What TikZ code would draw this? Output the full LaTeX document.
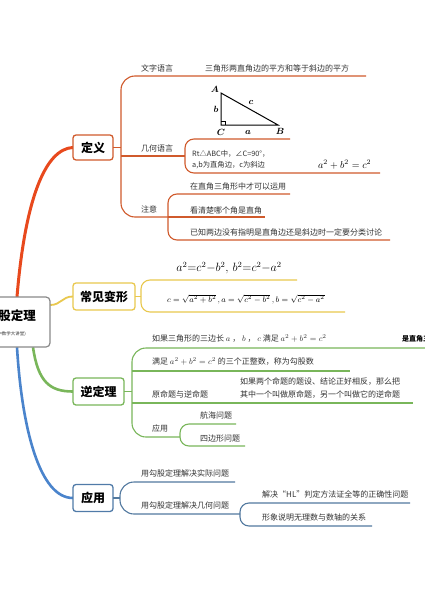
\documentclass[tikz,border=0pt]{standalone}
\usepackage{fontspec}
\usepackage{amsmath}
\setmainfont{Noto Sans CJK SC}
\usetikzlibrary{calc}
\definecolor{txt}{HTML}{333333}
\definecolor{redm}{HTML}{E8491D}
\definecolor{reds}{HTML}{D05A2C}
\definecolor{yelm}{HTML}{E9C84E}
\definecolor{grnm}{HTML}{79B65A}
\definecolor{blum}{HTML}{4A84CC}
\definecolor{blus}{HTML}{52799F}
\definecolor{rootc}{HTML}{8A8A8A}
\begin{document}
\begin{tikzpicture}[x=1pt,y=-1pt,
  mainbox/.style={draw, rounded corners=3pt, line width=1.3pt, fill=white, text=black,
    font=\bfseries\fontsize{12}{14}\selectfont, inner sep=0pt, minimum height=26pt},
  lbl/.style={anchor=base west, inner sep=0pt, text=txt, font=\fontsize{8}{10}\selectfont},
  sml/.style={anchor=base west, inner sep=0pt, text=txt, font=\fontsize{7.3}{9}\selectfont},
  tri/.style={inner sep=0pt, font=\fontsize{9}{10}\selectfont},
  sub/.style={line width=1.1pt},
  br/.style={line width=1.1pt, rounded corners=14pt},
  brs/.style={line width=1.1pt, rounded corners=9pt}
]
\useasboundingbox (0,0) rectangle (425,605);
\clip (0,0) rectangle (425,605);
\fill[white] (0,0) rectangle (425,605);

% ---------- root (placed first for anchors) ----------
\node[minimum width=78pt, minimum height=50pt, inner sep=0pt] (root) at (11,322) {};
\coordinate (rA) at ($(root.north)+(6,0)$);
\coordinate (rB) at ($(root.east)+(0,-17)$);
\coordinate (rC) at ($(root.south)+(22,0)$);
\coordinate (rD) at ($(root.south)+(6,0)$);

% main boxes (positions)
\node[minimum width=40pt, minimum height=25pt, inner sep=0pt] (dy) at (93,147.5) {};
\node[minimum width=62pt, minimum height=27pt, inner sep=0pt] (cb) at (104,296.5) {};
\node[minimum width=51pt, minimum height=27pt, inner sep=0pt] (nd) at (98.5,391.5) {};
\node[minimum width=40pt, minimum height=27pt, inner sep=0pt] (yy) at (93,498) {};

% main connectors
\draw[redm, line width=3pt, line cap=round] (rA) .. controls (25,200) and (45,149) .. (dy.west);
\draw[yelm, line width=1.8pt] (rB) .. controls (61,305) and (62,296.5) .. (cb.west);
\draw[grnm, line width=2.6pt] (rC) .. controls (38,382) and (50,391.5) .. (nd.west);
\draw[blum, line width=2.6pt] (rD) .. controls (22,430) and (40,498) .. (yy.west);

% boxes drawn on top
\node[mainbox, draw=reds, minimum width=40pt, minimum height=25pt] at (dy) {定义};
\node[mainbox, draw=yelm, minimum width=62pt, minimum height=27pt] at (cb) {常见变形};
\node[mainbox, draw=grnm, minimum width=51pt, minimum height=27pt] at (nd) {逆定理};
\node[mainbox, draw=blus!80!blum, minimum width=40pt, minimum height=27pt] at (yy) {应用};

% ---------- 定义 ----------
\draw[reds, sub] (dy.east) -- (121,147.5);
\draw[reds, br] (366,76) -| (121,217) -- (168,217);
\draw[reds, sub] (121,156) -- (185,156);
\draw[reds, brs] (290,139) -| (185,173) -- (380,173);
\draw[reds, brs] (290,194) -| (168,240) -- (390,240);
\draw[reds, sub] (168,217) -- (265,217);

\node[lbl] (d1) at (141,71.5) {文字语言};
\node[lbl] (d1a) at (205,71.5) {三角形两直角边的平方和等于斜边的平方};
\node[lbl] (d2) at (141,151) {几何语言};
\node[lbl] (d3) at (141,212) {注意};
\node[lbl] (d3a) at (190,189) {在直角三角形中才可以运用};
\node[lbl] (d3b) at (190,213) {看清楚哪个角是直角};
\node[lbl] (d3c) at (190,235) {已知两边没有指明是直角边还是斜边时一定要分类讨论};
\node[sml] (d2a) at (192,156) {Rt△ABC中，∠C=90°，};
\node[sml] (d2b) at (192,167) {a,b为直角边，c为斜边};
\node[anchor=base west, inner sep=0pt, font=\fontsize{10}{12}\selectfont] (d2f) at (318,168) {$a^2+b^2=c^2$};

% triangle
\coordinate (tA) at (221,93);
\coordinate (tC) at (221,125);
\coordinate (tB) at (278,125);
\draw[black, line width=1pt, line join=miter] (tA) -- (tC) -- (tB) -- cycle;
\draw[black, line width=0.6pt] ($(tC)+(0,-4)$) -| ($(tC)+(4,0)$);
\node[tri] (lA) at (215,89) {$\boldsymbol{A}$};
\node[tri] (lb) at (216,109) {$\boldsymbol{b}$};
\node[tri] (lc) at (251,102) {$\boldsymbol{c}$};
\node[tri] (lC) at (221,132) {$\boldsymbol{C}$};
\node[tri] (la) at (248,132) {$\boldsymbol{a}$};
\node[tri] (lB) at (280,131) {$\boldsymbol{B}$};

% ---------- 常见变形 ----------
\draw[yelm, sub] (cb.east) -- (141,296.5);
\draw[yelm, brs] (297,280) -| (141,312) -- (345,312);
\node[inner sep=0pt, font=\fontsize{11.5}{13}\selectfont] (c1) at (229,268) {$a^2{=}c^2{-}b^2,\, b^2{=}c^2{-}a^2$};
\node[anchor=base west, inner sep=0pt, font=\fontsize{8.5}{10}\selectfont] (c2) at (167,302) {$c=\sqrt{a^2+b^2}\,,a=\sqrt{c^2-b^2}\,,b=\sqrt{c^2-a^2}$};

% ---------- 逆定理 ----------
\draw[grnm, sub] (nd.east) -- (132,391.5);
\draw[grnm, br] (430,348) -| (132,437) -- (180,437);
\draw[grnm, sub] (132,371) -- (350,371);
\draw[grnm, sub] (132,403) -- (413,403);
\draw[grnm, brs] (236,424) -| (180,446) -- (245,446);

\node[lbl] (n1) at (152,341) {如果三角形的三边长 $a$ ， $b$ ， $c$ 满足 $a^2+b^2=c^2$};
\node[anchor=base west, inner sep=0pt, font=\bfseries\fontsize{7}{9}\selectfont] (n1b) at (402,341) {是直角三角形};
\node[lbl] (n2) at (152,364) {满足 $a^2+b^2=c^2$ 的三个正整数，称为勾股数};
\node[lbl] (n3) at (152,397) {原命题与逆命题};
\node[lbl] (n3a) at (240,384) {如果两个命题的题设、结论正好相反，那么把};
\node[lbl] (n3b) at (240,397) {其中一个叫做原命题，另一个叫做它的逆命题};
\node[lbl] (n4) at (152,431) {应用};
\node[lbl] (n4a) at (200,418) {航海问题};
\node[lbl] (n4b) at (200,441) {四边形问题};

% ---------- 应用 ----------
\draw[blus, sub] (yy.east) -- (120,498);
\draw[blus, br] (235,482) -| (120,514) -- (240,514);
\draw[blus, brs] (410,503) -| (240,526) -- (372,526);
\node[lbl] (y1) at (141,476) {用勾股定理解决实际问题};
\node[lbl] (y2) at (141,508) {用勾股定理解决几何问题};
\node[lbl] (y2a) at (262,497) {解决“HL”判定方法证全等的正确性问题};
\node[lbl] (y2b) at (262,520) {形象说明无理数与数轴的关系};

% root box on top
\node[draw=rootc, line width=1.2pt, rounded corners=4pt, fill=white, minimum width=78pt, minimum height=50pt, inner sep=0pt] at (root) {};
\node[inner sep=0pt, font=\bfseries\fontsize{12.5}{14}\selectfont] (roott) at (11,316) {勾股定理};
\node[inner sep=0pt, anchor=east, font=\fontsize{4.5}{5}\selectfont, text=txt] (roots) at (26,334) {(初中数学大讲堂)};
\end{tikzpicture}
\end{document}
